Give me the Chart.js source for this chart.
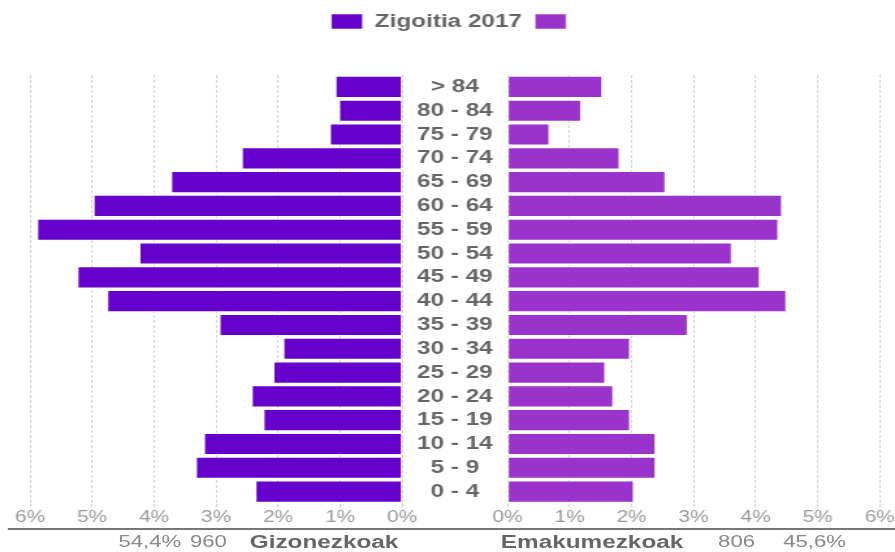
<!DOCTYPE html>
<html lang="eu">
<head>
<meta charset="UTF-8">
<title>Zigoitia 2017</title>
<script src="https://cdn.jsdelivr.net/npm/chart.js@4"></script>
<style>
  html, body { margin: 0; padding: 0; background: #fff; overflow: hidden; }
  /* the whole picture is drawn narrow and stretched sideways, like the reference */
  #wrap { position: relative; width: 688px; height: 552px; transform: scaleX(1.3009); transform-origin: 0 0; }
  #pyramid { position: absolute; left: 0; top: 0; }
  .foot { position: absolute; top: 530px; height: 24px; line-height: 24px; white-space: nowrap;
          font-family: "Liberation Sans", Arial, sans-serif; }
  .num { font-size: 17px; color: #888; }
  .side { font-size: 18.7px; font-weight: bold; color: #666; }
  #baseline { position: absolute; left: 6px; top: 528px; width: 682px; height: 2px; background: #777; }
</style>
</head>
<body>
<div id="wrap">
  <canvas id="pyramid" width="688" height="552" style="width:688px;height:552px"></canvas>
  <div id="baseline"></div>
  <span class="foot num" style="left:91px">54,4%</span>
  <span class="foot num" style="left:146px">960</span>
  <span class="foot side" style="left:192px">Gizonezkoak</span>
  <span class="foot side" style="left:385px">Emakumezkoak</span>
  <span class="foot num" style="left:552px">806</span>
  <span class="foot num" style="left:602px">45,6%</span>
</div>
<script>
// age groups, top to bottom
const ageGroups = ['> 84', '80 - 84', '75 - 79', '70 - 74', '65 - 69', '60 - 64', '55 - 59', '50 - 54',
  '45 - 49', '40 - 44', '35 - 39', '30 - 34', '25 - 29', '20 - 24', '15 - 19', '10 - 14', '5 - 9', '0 - 4'];

// share of the total population, in %
const men = [1.08, 1.02, 1.17, 2.59, 3.73, 4.98, 5.89, 4.24, 5.24, 4.76, 2.95, 1.92, 2.08, 2.43, 2.24, 3.20, 3.33, 2.37];
const women = [1.53, 1.19, 0.68, 1.81, 2.55, 4.43, 4.37, 3.62, 4.07, 4.50, 2.91, 1.98, 1.58, 1.71, 1.98, 2.39, 2.39, 2.04];

const tickSteps = [0, 1, 2, 3, 4, 5, 6];
const legendTitle = 'Zigoitia 2017';

const menColor = '#6600CC';
const womenColor = '#9933CC';
const FONT = '"Liberation Sans", Arial, sans-serif';

// half of the empty band in the middle, in axis units (%)
const half = 0.85;
const maxTick = tickSteps[tickSteps.length - 1];

const tickValues = tickSteps.slice().reverse().map(p => -(half + p)).concat(tickSteps.map(p => half + p));

// draws the age group names in the middle column
const centerLabels = {
  id: 'centerLabels',
  afterDatasetsDraw(chart) {
    const {ctx, scales: {x, y}} = chart;
    ctx.save();
    ctx.font = 'bold 18.7px ' + FONT;
    ctx.fillStyle = '#666';
    ctx.textAlign = 'center';
    ctx.textBaseline = 'middle';
    const cx = x.getPixelForValue(0);
    ageGroups.forEach((g, i) => ctx.fillText(g, cx, y.getPixelForValue(i)));
    ctx.restore();
  }
};

new Chart(document.getElementById('pyramid'), {
  type: 'bar',
  data: {
    labels: ageGroups,
    datasets: [{
      label: legendTitle,
      data: men.map(v => [-(half + v), -half]),
      backgroundColor: menColor,
      borderColor: 'rgba(255,255,255,0.55)',
      borderWidth: 1,
      borderSkipped: false,
      grouped: false,
      barPercentage: 0.93,
      categoryPercentage: 1
    }, {
      label: '',
      data: women.map(v => [half, half + v]),
      backgroundColor: womenColor,
      borderColor: 'rgba(255,255,255,0.55)',
      borderWidth: 1,
      borderSkipped: false,
      grouped: false,
      barPercentage: 0.93,
      categoryPercentage: 1
    }]
  },
  options: {
    indexAxis: 'y',
    responsive: false,
    animation: false,
    devicePixelRatio: 1,
    layout: { padding: { top: 2.15, left: 23.1, right: 11.8, bottom: 26.3 } },
    plugins: {
      legend: {
        position: 'top',
        labels: {
          boxWidth: 24,
          boxHeight: 15,
          padding: 10,
          color: '#666',
          font: { family: FONT, size: 18.7, weight: 'bold' }
        }
      },
      tooltip: { enabled: false }
    },
    scales: {
      x: {
        type: 'linear',
        position: 'bottom',
        min: -(half + maxTick),
        max: half + maxTick,
        afterBuildTicks: s => { s.ticks = tickValues.map(v => ({ value: v })); },
        ticks: {
          padding: -1.5,
          color: '#999',
          font: { family: FONT, size: 16 },
          callback: v => Math.round(Math.abs(v) - half) + '%'
        },
        grid: { color: '#d0d0d0', lineWidth: 1, tickLength: 6, tickColor: '#d0d0d0', tickBorderDash: [3, 2] },
        border: { display: false, dash: [3, 2] }
      },
      gap: {
        axis: 'x',
        type: 'linear',
        position: 'top',
        display: true,
        grid: { display: false },
        border: { display: false },
        ticks: { display: false },
        afterFit: s => { s.height = 34.15; }
      },
      y: {
        display: false
      }
    }
  },
  plugins: [centerLabels]
});
</script>
</body>
</html>
